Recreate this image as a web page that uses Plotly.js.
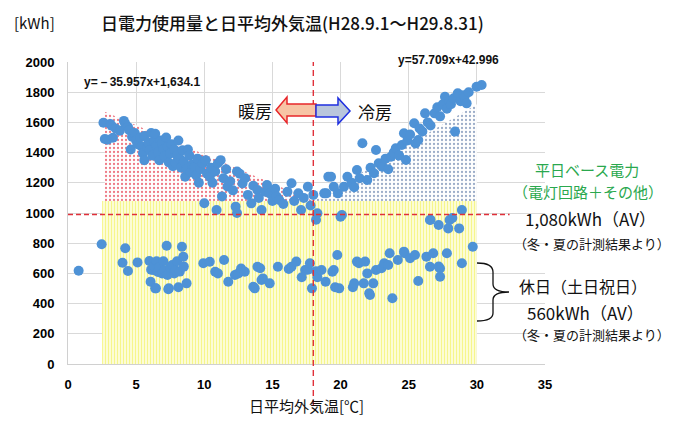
<!DOCTYPE html>
<html><head><meta charset="utf-8">
<script src="https://cdn.plot.ly/plotly-3.0.1.min.js"></script>
<style>html,body{margin:0;padding:0;background:#fff}#chart{width:687px;height:422px}</style>
</head><body><div id="chart"></div>
<script>
// ---- data ----
const weekdayTemp = [2.6,2.7,2.9,3.1,3.2,3.3,3.5,3.8,4.1,4.2,4.4,4.5,4.6,4.7,4.9,5.0,5.1,5.3,5.4,5.5,5.6,5.6,5.8,5.9,6.0,6.1,6.2,6.3,6.4,6.5,6.6,6.7,6.8,6.9,7.0,7.1,7.2,7.3,7.4,7.5,7.6,7.7,7.8,7.9,8.0,8.1,8.2,8.3,8.4,8.5,8.6,8.7,8.8,8.9,9.0,9.1,9.3,9.4,9.5,9.6,9.7,9.9,10.0,10.1,10.2,10.4,10.5,10.6,10.8,10.9,11.0,11.2,11.3,11.4,11.6,11.7,11.9,12.1,12.3,12.4,12.4,12.6,12.8,13.0,13.2,13.45,13.6,13.9,14.0,14.2,14.5,14.6,14.8,15.0,15.2,15.3,15.5,15.8,16.1,16.4,16.6,16.9,17.1,17.3,17.6,17.8,18.0,18.3,18.2,
  18.8,18.95,19.1,19.3,19.5,19.8,20.0,20.1,20.25,20.5,20.8,21.0,21.2,21.4,21.6,21.96,22.2,22.45,22.6,22.8,23.06,23.3,23.5,23.7,23.9,24.05,24.3,24.5,24.65,24.8,24.9,25.1,25.4,25.5,25.7,25.8,26.0,26.2,26.4,26.6,26.9,27.1,27.3,27.5,27.66,27.8,28.0,28.1,28.3,28.4,28.6,28.8,29.0,29.1,29.25,29.4,29.98,30.35,
  26.56,26.6,27.2,27.9,28.0,28.2,28.7,28.9];
const weekdayKWh = [1598,1490,1485,1590,1578,1498,1560,1545,1610,1590,1570,1548,1420,1505,1530,1480,1455,1500,1440,1395,1510,1350,1430,1465,1415,1530,1380,1475,1525,1445,1400,1350,1480,1460,1420,1375,1500,1440,1335,1395,1455,1310,1420,1330,1380,1480,1360,1300,1415,1340,1240,1290,1420,1380,1270,1320,1305,1250,1360,1200,1290,1330,1065,1350,1260,1240,1300,1200,1275,1020,1330,1350,1110,1230,1290,1175,1210,1150,1042,1275,1000,1260,1195,1230,1120,1064,1180,1152,1100,1020,1140,1185,1130,1080,1160,1110,1086,1060,1140,1197,1080,1130,1020,1100,1174,1050,1120,998,955,
  1130,1130,1240,1240,1174,1130,975,987,1174,1240,1200,1170,1285,1230,1462,1219,1300,1263,1417,1330,1307,1360,1290,1373,1400,1428,1380,1450,1528,1351,1480,1520,1594,1460,1483,1560,1540,1660,1600,1580,1660,1700,1640,1720,1770,1690,1740,1720,1760,1539,1793,1740,1780,1770,1726,1800,1836,1848,
  954,955,920,898,954,967,898,1020];
const holidayTemp = [0.78,2.47,4.0,4.2,4.4,5.1,5.97,6.06,6.1,6.26,6.3,6.4,6.45,6.5,6.6,6.7,6.9,7.0,7.1,7.24,7.3,7.36,7.4,7.5,7.65,7.8,7.9,8.0,8.1,8.2,8.36,8.46,8.5,8.7,9.93,10.4,10.8,11.0,11.45,11.76,12.25,12.5,12.7,12.97,13.6,13.7,13.9,14.1,14.2,14.3,14.8,15.4,16.2,16.4,16.75,17.15,17.4,17.6,17.75,17.9,18.2,18.3,18.6,18.9,19.4,19.5,19.6,19.76,19.9,20.9,21.0,21.2,21.35,21.7,21.8,21.96,22.1,22.16,22.4,22.6,23.0,23.2,23.5,23.6,23.8,24.2,24.65,24.7,25.1,25.46,25.7,26.3,26.56,26.8,27.2,27.3,27.3,27.8,28.9,29.7];
const holidayKWh = [618,793,671,766,616,673,682,545,625,622,650,501,501,680,610,640,600,680,620,783,590,495,501,640,655,600,620,680,508,612,777,710,645,534,667,677,611,600,689,545,589,600,633,611,512,501,644,634,556,567,534,644,629,644,678,574,622,625,667,501,615,575,622,545,611,622,508,722,501,508,534,678,667,534,678,600,468,457,534,622,634,667,656,733,435,689,744,733,700,722,550,711,644,733,645,578,633,733,667,777];
// region outlines (base load, heating, cooling areas)
const baseRegionTemp = [2.5,30,30,2.5];
const baseRegionKWh  = [0,0,1080,1080];
const heatRegionTemp = [2.7,2.7,18.0];
const heatRegionKWh  = [1080,1670,1080];
const coolRegionTemp = [18.0,30,30];
const coolRegionKWh  = [1080,1720,1080];
const baseLineKWh = 990;
const splitTemp = 18;
const xTicks = [0,5,10,15,20,25,30,35];
const yTicks = [0,200,400,600,800,1000,1200,1400,1600,1800,2000];

// ---- helpers: pixel -> paper ----
const L=68,R=545,T=62,B=364;
const X = p => (p-L)/(R-L);
const Y = p => (B-p)/(B-T);
const P = pts => pts.map((q,i)=>(i===0?'M':'L')+X(q[0]).toFixed(4)+','+Y(q[1]).toFixed(4)).join(' ')+' Z';

const jp = '"Noto Sans CJK JP", sans-serif';
const num = '"Liberation Sans", Arial, sans-serif';

const traces = [
  {x:baseRegionTemp, y:baseRegionKWh, mode:'none', fill:'toself', fillcolor:'#fcfcd0',
   fillpattern:{shape:'|', fgcolor:'#f6f68c', bgcolor:'#fdfdde', size:3, solidity:0.4},
   hoverinfo:'skip', showlegend:false},
  {x:heatRegionTemp, y:heatRegionKWh, mode:'none', fill:'toself', fillcolor:'#fbe8e8',
   fillpattern:{shape:'.', fgcolor:'#ee7a86', bgcolor:'#ffffff', size:4, solidity:0.25},
   hoverinfo:'skip', showlegend:false},
  {x:coolRegionTemp, y:coolRegionKWh, mode:'none', fill:'toself', fillcolor:'#e8ecf3',
   fillpattern:{shape:'.', fgcolor:'#9cadc8', bgcolor:'#ffffff', size:4, solidity:0.25},
   hoverinfo:'skip', showlegend:false},
  {x:weekdayTemp, y:weekdayKWh, mode:'markers', type:'scatter', name:'平日',
   marker:{size:10, color:'#4e92d6'}, showlegend:false, cliponaxis:false},
  {x:holidayTemp, y:holidayKWh, mode:'markers', type:'scatter', name:'休日',
   marker:{size:10, color:'#4e92d6'}, showlegend:false, cliponaxis:false}
];

const ann = (text, px, py, size, opts={}) => Object.assign({
  text, xref:'paper', yref:'paper', x:X(px), y:Y(py), showarrow:false,
  xanchor:'center', yanchor:'middle', font:{family:jp, size, color:'#111'}}, opts);

const green = '#2aa84e';
const layout = {
  width:687, height:422,
  margin:{l:L, r:687-R, t:T, b:422-B},
  paper_bgcolor:'#fff', plot_bgcolor:'#fff',
  showlegend:false,
  xaxis:{range:[0,35], tickvals:xTicks, showgrid:true, gridcolor:'#d9d9d9', gridwidth:1,
    zeroline:false, showline:true, linecolor:'#d0d0d0', ticks:'', ticklabelstandoff:8,
    tickfont:{family:num, size:13, color:'#000', weight:'bold'},
    title:{text:'日平均外気温[℃]', font:{family:jp, size:15, color:'#111'}, standoff:10}},
  yaxis:{range:[0,2000], tickvals:yTicks, showgrid:true, gridcolor:'#d9d9d9', gridwidth:1,
    zeroline:false, showline:true, linecolor:'#d0d0d0', ticks:'', ticklabelstandoff:10,
    tickfont:{family:num, size:13, color:'#000', weight:'bold'}},
  shapes:[
    {type:'line', xref:'x', yref:'y', x0:0, x1:32.4, y0:baseLineKWh, y1:baseLineKWh,
     line:{color:'#e0303a', width:1.6, dash:'5px,3px'}, layer:'above'},
    {type:'line', xref:'x', yref:'paper', x0:splitTemp, x1:splitTemp, y0:Y(406), y1:1.0,
     line:{color:'#e0303a', width:1.4, dash:'6px,4px'}, layer:'above'},
    {type:'path', xref:'paper', yref:'paper', layer:'above',
     path:P([[276,110],[287,97],[287,104],[316,104],[316,116],[287,116],[287,123]]),
     fillcolor:'#f7c4a5', line:{color:'#e8262a', width:1.5}},
    {type:'path', xref:'paper', yref:'paper', layer:'above',
     path:P([[316,105],[338,105],[338,98],[350,111],[338,124],[338,117],[316,117]]),
     fillcolor:'#b9c6dc', line:{color:'#1f2fe0', width:1.5}},
    {type:'path', xref:'paper', yref:'paper', layer:'above',
     path:'M'+X(477)+','+Y(263)+' Q'+X(493)+','+Y(263)+' '+X(493)+','+Y(272)+' L'+X(493)+','+Y(284)+
          ' Q'+X(493)+','+Y(292)+' '+X(509)+','+Y(292)+' Q'+X(493)+','+Y(292)+' '+X(493)+','+Y(300)+
          ' L'+X(493)+','+Y(313)+' Q'+X(493)+','+Y(321)+' '+X(477)+','+Y(321),
     line:{color:'#111', width:1.3}}
  ],
  annotations:[
    ann('[kWh]', 12, 22, 15, {xanchor:'left'}),
    ann('日電力使用量と日平均外気温(H28.9.1～H29.8.31)', 99, 22, 17, {xanchor:'left', font:{family:jp, size:17, color:'#111', weight:500}}),
    ann('y=－35.957x+1,634.1', 82, 82, 12, {xanchor:'left', font:{family:num, size:12, color:'#111', weight:'bold'}}),
    ann('y=57.709x+42.996', 448, 60, 12, {font:{family:num, size:12, color:'#111', weight:'bold'}}),
    ann('暖房', 255, 110, 17),
    ann('冷房', 375, 112, 17),
    ann('平日ベース電力', 587, 169, 15, {font:{family:jp, size:15, color:green}}),
    ann('（電灯回路＋その他）', 588, 191, 15, {font:{family:jp, size:15, color:green}}),
    ann('1,080kWh（AV）', 590, 218, 17),
    ann('（冬・夏の計測結果より）', 592, 243, 13),
    ann('休日（土日祝日）', 583, 286, 16),
    ann('560kWh（AV）', 585, 312, 17),
    ann('（冬・夏の計測結果より）', 592, 334, 13)
  ]
};
Plotly.newPlot('chart', traces, layout, {staticPlot:true, displayModeBar:false});
</script></body></html>
